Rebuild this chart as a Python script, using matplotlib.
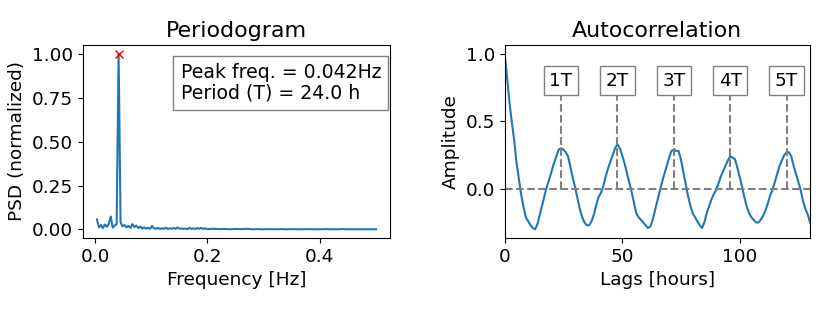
import matplotlib
matplotlib.use("Agg")
import matplotlib.pyplot as plt
import numpy as np

plt.rcParams["font.size"] = 13.3

# Periodogram (frequencies in Hz, PSD normalized to the peak)
freq = [0.0035, 0.007, 0.0105, 0.014, 0.0175, 0.021, 0.0245, 0.028, 0.0315, 0.035,
        0.0385, 0.042, 0.0455, 0.049, 0.0525, 0.056, 0.0595, 0.063, 0.0665, 0.070,
        0.0735, 0.077, 0.0805, 0.084, 0.0875, 0.091, 0.0945, 0.098, 0.1015, 0.105,
        0.1085, 0.112, 0.1155, 0.119, 0.1225, 0.126, 0.1295, 0.133, 0.1365, 0.140,
        0.1435, 0.147, 0.1505, 0.154, 0.1575, 0.161, 0.1645, 0.168, 0.1715, 0.175,
        0.1785, 0.182, 0.1855, 0.189, 0.1925, 0.196, 0.1995,
        0.21, 0.22, 0.23, 0.24, 0.25, 0.26, 0.27, 0.28, 0.29, 0.30,
        0.31, 0.32, 0.33, 0.34, 0.35, 0.36, 0.37, 0.38, 0.39, 0.40,
        0.41, 0.42, 0.43, 0.44, 0.45, 0.46, 0.47, 0.48, 0.49, 0.50]
psd = [0.057, 0.012, 0.025, 0.008, 0.028, 0.015, 0.032, 0.074, 0.010, 0.022,
       0.030, 1.000, 0.040, 0.018, 0.025, 0.012, 0.020, 0.009, 0.030, 0.014,
       0.022, 0.008, 0.016, 0.006, 0.012, 0.005, 0.009, 0.004, 0.020, 0.006,
       0.004, 0.009, 0.003, 0.007, 0.004, 0.010, 0.003, 0.006, 0.004, 0.008,
       0.003, 0.012, 0.004, 0.006, 0.003, 0.005, 0.002, 0.009, 0.003, 0.006,
       0.003, 0.008, 0.004, 0.009, 0.003, 0.006, 0.002,
       0.004, 0.002, 0.003, 0.001, 0.003, 0.002, 0.004, 0.001, 0.002, 0.001,
       0.002, 0.001, 0.002, 0.001, 0.002, 0.001, 0.001, 0.002, 0.001, 0.001,
       0.002, 0.001, 0.001, 0.002, 0.001, 0.001, 0.001, 0.001, 0.001, 0.001]
peak_freq = 0.042
period_h = 24.0

# Autocorrelation, one value per hour of lag
acf = [1.00, 0.83, 0.65, 0.50, 0.37, 0.20, 0.08, -0.04, -0.13, -0.21,
       -0.24, -0.27, -0.29, -0.30, -0.26, -0.19, -0.12, -0.05, 0.02, 0.07,
       0.13, 0.19, 0.24, 0.29, 0.30, 0.29, 0.27, 0.24, 0.16, 0.08,
       0.01, -0.07, -0.15, -0.21, -0.25, -0.27, -0.27, -0.24, -0.19, -0.12,
       -0.06, -0.03, 0.02, 0.09, 0.15, 0.20, 0.25, 0.30, 0.33, 0.30,
       0.25, 0.19, 0.12, 0.05, -0.02, -0.10, -0.18, -0.21, -0.23, -0.25,
       -0.27, -0.29, -0.28, -0.23, -0.16, -0.09, -0.02, 0.05, 0.11, 0.17,
       0.23, 0.28, 0.29, 0.28, 0.28, 0.22, 0.13, 0.04, -0.05, -0.12,
       -0.18, -0.21, -0.24, -0.27, -0.29, -0.25, -0.18, -0.13, -0.08, -0.04,
       -0.01, 0.04, 0.09, 0.13, 0.17, 0.21, 0.24, 0.23, 0.22, 0.16,
       0.09, 0.02, -0.06, -0.13, -0.18, -0.21, -0.23, -0.25, -0.25, -0.23,
       -0.20, -0.16, -0.11, -0.05, -0.01, 0.05, 0.11, 0.17, 0.21, 0.25,
       0.27, 0.27, 0.24, 0.17, 0.11, 0.05, -0.01, -0.09, -0.15, -0.19,
       -0.25, -0.29]
lags = np.arange(len(acf))
period_labels = ["1T", "2T", "3T", "4T", "5T"]

fig = plt.figure(figsize=(8.3, 3.12), dpi=100)
ax1 = fig.add_axes([0.100, 0.237, 0.370, 0.619])
ax2 = fig.add_axes([0.608, 0.237, 0.368, 0.619])

# periodogram
ax1.plot(freq, psd)
ax1.plot(peak_freq, max(psd), "rx")
ax1.set_title("Periodogram")
ax1.set_xlabel("Frequency [Hz]")
ax1.set_ylabel("PSD (normalized)")
ax1.set_xticks([0.0, 0.2, 0.4])
ax1.set_yticks([0.0, 0.25, 0.5, 0.75, 1.0])
ax1.set_yticklabels(["0.00", "0.25", "0.50", "0.75", "1.00"])
ax1.text(0.318, 0.905, f"Peak freq. = {peak_freq:.3f}Hz\nPeriod (T) = {period_h:.1f} h",
         transform=ax1.transAxes, va="top", ha="left", linespacing=1.1, fontsize=13.6,
         bbox=dict(boxstyle="square,pad=0.38", facecolor="white", edgecolor="gray"))

# autocorrelation
ax2.plot(lags, acf)
ax2.axhline(0, color="gray", linestyle="--")
for i, lab in enumerate(period_labels):
    x = period_h * (i + 1)
    ax2.vlines(x, 0, 0.7, color="gray", linestyle="--")
    ax2.text(x, 0.8, lab, ha="center", va="center",
             bbox=dict(facecolor="white", edgecolor="gray"))
ax2.set_xlim(0, 130)
ax2.set_xticks([0, 50, 100])
ax2.set_yticks([0.0, 0.5, 1.0])
ax2.set_title("Autocorrelation")
ax2.set_xlabel("Lags [hours]")
ax2.set_ylabel("Amplitude")

fig.savefig("out.png", dpi=100)
